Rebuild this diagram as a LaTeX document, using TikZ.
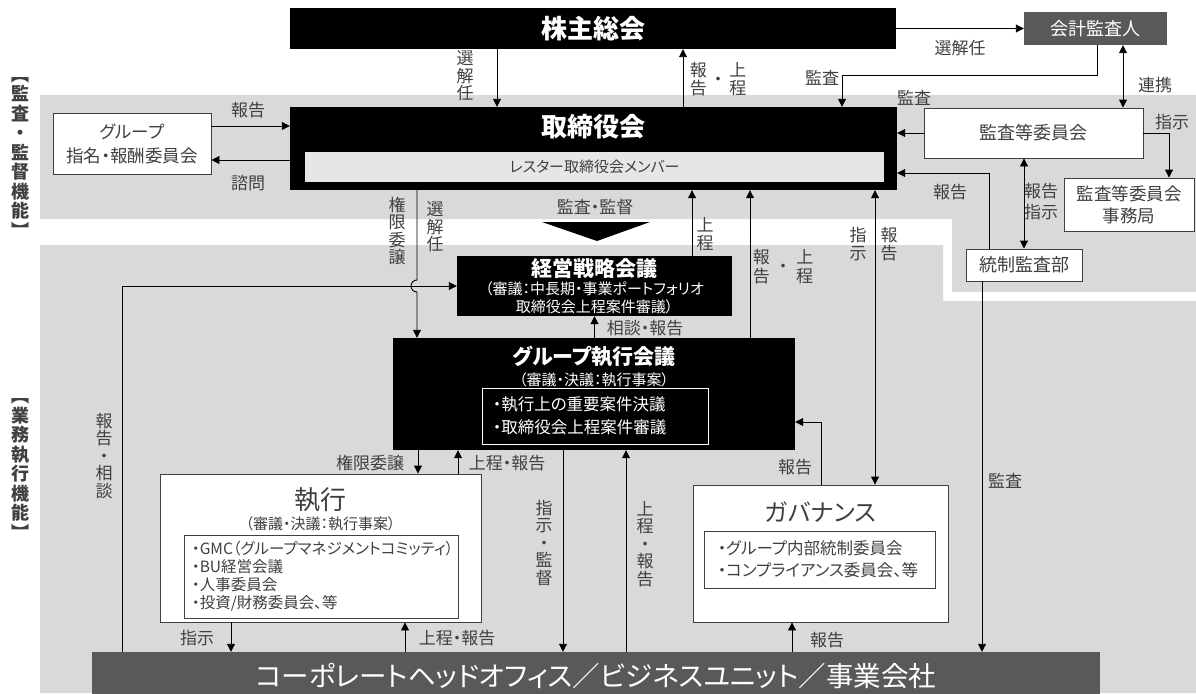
\documentclass[tikz,border=0pt]{standalone}
\usepackage{fontspec}
\setmainfont{Noto Sans CJK JP}[RawFeature=+palt]
\usetikzlibrary{arrows.meta}
\definecolor{bandgray}{HTML}{D9D9D9}
\definecolor{boxgray}{HTML}{595959}
\definecolor{txtgray}{HTML}{404040}
\definecolor{memgray}{HTML}{E7E6E6}
\tikzset{
  blackbox/.style={fill=black, text=white, inner sep=0pt},
  whitebox/.style={draw=txtgray, fill=white, line width=0.9pt, text=txtgray, inner sep=0pt, align=center},
  darkbox/.style={fill=boxgray, text=white, inner sep=0pt},
  lab/.style={text=txtgray, inner sep=0pt, font=\fontsize{17}{18}\selectfont},
  vlab/.style={lab, align=center, font=\fontsize{17}{17.5}\selectfont},
  arr/.style={line width=0.9pt, -{Triangle[length=8pt,width=8pt]}},
  darr/.style={line width=0.9pt, {Triangle[length=8pt,width=8pt]}-{Triangle[length=8pt,width=8pt]}},
}

\begin{document}
\begin{tikzpicture}[x=1pt, y=-1pt]
    \useasboundingbox (0,0) rectangle (1196,693);

    % Bands
    \fill[bandgray] (40,95) -- (1196,95) -- (1196,292) -- (952,292) -- (952,219) -- (40,219) -- cycle;
    \fill[bandgray] (40,245) -- (943,245) -- (943,301) -- (1196,301) -- (1196,693) -- (40,693) -- cycle;
    \node[lab, align=center, font=\bfseries\fontsize{18}{19.5}\selectfont] (bandA) at (21,157) {︻\\監\\査\\・\\監\\督\\機\\能\\︼};
    \node[lab, align=center, font=\bfseries\fontsize{18}{19.5}\selectfont] (bandB) at (21,469) {︻\\業\\務\\執\\行\\機\\能\\︼};

    % Shareholders, auditor
    \node[blackbox, font=\bfseries\fontsize{26}{28}\selectfont, minimum width=606pt, minimum height=41pt] (gms) at (593,28.5) {株主総会};
    \node[darkbox, font=\fontsize{18}{20}\selectfont, minimum width=143pt, minimum height=33pt] (cpa) at (1095.5,28.5) {会計監査人};

    % Board
    \node[blackbox, minimum width=607pt, minimum height=83pt] (board) at (593.5,148.5) {};
    \node[text=white, inner sep=0pt, font=\bfseries\fontsize{26}{28}\selectfont] (boardtitle) at (593.5,127) {取締役会};
    \node[fill=memgray, text=txtgray, inner sep=0pt, font=\fontsize{15}{16}\selectfont, minimum width=579pt, minimum height=30pt] (members) at (594.5,167) {レスター取締役会メンバー};
    \node[whitebox, font=\fontsize{17.5}{24}\selectfont, minimum width=158pt, minimum height=61pt] (nomcom) at (132,143.5) {グループ\\指名・報酬委員会};
    \node[whitebox, font=\fontsize{18}{20}\selectfont, minimum width=219pt, minimum height=50pt] (acom) at (1033.5,133) {監査等委員会};
    \node[whitebox, font=\fontsize{17.5}{22}\selectfont, minimum width=130pt, minimum height=53pt] (acoff) at (1129,204.5) {監査等委員会\\事務局};
    \node[whitebox, font=\fontsize{18}{20}\selectfont, minimum width=116pt, minimum height=32pt] (iad) at (1024,265) {統制監査部};

    % Strategy meeting
    \node[blackbox, minimum width=275pt, minimum height=60pt] (strat) at (594.5,286) {};
    \node[text=white, inner sep=0pt, font=\bfseries\fontsize{21}{23}\selectfont] (strattitle) at (594.5,268) {経営戦略会議};
    \node[text=white, inner sep=0pt, align=center, font=\fontsize{15}{18}\selectfont] (stratsub) at (594.5,298) {（審議：中長期・事業ポートフォリオ\\取締役会上程案件審議）};

    % Group executive committee
    \node[blackbox, minimum width=402pt, minimum height=112pt] (gec) at (594,394) {};
    \node[text=white, inner sep=0pt, font=\bfseries\fontsize{21}{23}\selectfont] (gectitle) at (594,357) {グループ執行会議};
    \node[text=white, inner sep=0pt, font=\fontsize{15}{17}\selectfont] (gecsub) at (594,380) {（審議・決議：執行事案）};
    \node[draw=white, line width=0.9pt, text=white, align=left, text width=204pt, inner xsep=11pt, inner ysep=0pt, minimum height=56pt, font=\fontsize{16.5}{23}\selectfont] (geclist) at (595,416) {・執行上の重要案件決議\\・取締役会上程案件審議};

    % Execution
    \node[whitebox, minimum width=321pt, minimum height=148pt] (exec) at (320.5,548) {};
    \node[text=txtgray, inner sep=0pt, font=\fontsize{26}{28}\selectfont] (exectitle) at (320.5,500) {執行};
    \node[text=txtgray, inner sep=0pt, font=\fontsize{15}{17}\selectfont] (execsub) at (320.5,524) {（審議・決議：執行事案）};
    \node[whitebox, align=left, text width=258pt, inner xsep=8pt, minimum height=83pt, font=\fontsize{15.5}{18}\selectfont] (execlist) at (321,576.5) {・GMC（グループマネジメントコミッティ）\\・BU経営会議\\・人事委員会\\・投資/財務委員会、等};

    % Governance
    \node[whitebox, minimum width=255pt, minimum height=137pt] (gov) at (820.5,553.5) {};
    \node[text=txtgray, inner sep=0pt, font=\fontsize{24}{26}\selectfont] (govtitle) at (820.5,512) {ガバナンス};
    \node[whitebox, align=left, text width=203pt, inner xsep=14pt, minimum height=57pt, font=\fontsize{16.5}{22}\selectfont] (govlist) at (819.5,559.5) {・グループ内部統制委員会\\・コンプライアンス委員会、等};

    % Business side
    \node[darkbox, font=\fontsize{27.5}{29}\selectfont, minimum width=1008pt, minimum height=48pt] (cho) at (596,676) {コーポレートヘッドオフィス／ビジネスユニット／事業会社};

    % Columns of the connectors
    \coordinate (xSel) at (497,0);
    \coordinate (xRep) at (683,0);
    \coordinate (xLink) at (1123,0);
    \coordinate (xCpaAud) at (1097,0);
    \coordinate (xBoardAud) at (842,0);
    \coordinate (xOff) at (1169,0);
    \coordinate (xIadRep) at (989,0);
    \coordinate (yIadRep) at (0,173);
    \coordinate (xIadAud) at (982,0);
    \coordinate (xDel) at (417,0);
    \coordinate (yJump) at (0,280);
    \coordinate (xLeft) at (122,0);
    \coordinate (xStratUp) at (692,0);
    \coordinate (xGecUp) at (750,0);
    \coordinate (xGov) at (875,0);
    \coordinate (xDel2) at (418,0);
    \coordinate (xUp2) at (458,0);
    \coordinate (xInst) at (231,0);
    \coordinate (xUp3) at (405,0);
    \coordinate (xSup) at (563,0);
    \coordinate (xUp4) at (626,0);
    \coordinate (xGovRep) at (821,0);
    \coordinate (yGovRep) at (0,422);
    \coordinate (xGovUp) at (792,0);

    % Top connectors
    \draw[arr] (gms.south -| xSel) -- (board.north -| xSel);
    \draw[arr] (board.north -| xRep) -- (gms.south -| xRep);
    \draw[arr] (gms.east) -- (cpa.west);
    \draw[darr] (cpa.south -| xLink) -- (acom.north -| xLink);
    \draw[arr] (cpa.south -| xCpaAud) -- ++(0,30) -| (board.north -| xBoardAud);
    \draw[arr] (nomcom.east |- 0,126) -- (board.west |- 0,126);
    \draw[arr] (board.west |- 0,160) -- (nomcom.east |- 0,160);
    \draw[arr] (acom.west) -- (board.east |- acom.west);
    \draw[arr] (acom.east) -| (acoff.north -| xOff);
    \draw[darr] (acom.south -| iad.north) -- (iad.north);
    \draw[arr] (iad.north -| xIadRep) |- (board.east |- yIadRep);
    \draw[arr] (iad.south -| xIadAud) -- (cho.north -| xIadAud);

    % Middle connectors
    \draw[arr] (board.south -| xDel) -- (yJump -| xDel) arc[start angle=90, end angle=270, radius=6pt] -- (gec.north -| xDel);
    \draw[arr] (cho.north -| xLeft) |- (strat.west);
    \draw[arr] (strat.north -| xStratUp) -- (board.south -| xStratUp);
    \draw[arr] (gec.north -| xGecUp) -- (board.south -| xGecUp);
    \draw[darr] (board.south -| xGov) -- (gov.north -| xGov);
    \draw[arr] (gec.north -| strat.south) -- (strat.south);
    \fill (542,222) -- (650,222) -- (597,241) -- cycle;

    % Lower connectors
    \draw[arr] (gec.south -| xDel2) -- (exec.north -| xDel2);
    \draw[arr] (exec.north -| xUp2) -- (gec.south -| xUp2);
    \draw[arr] (exec.south -| xInst) -- (cho.north -| xInst);
    \draw[arr] (cho.north -| xUp3) -- (exec.south -| xUp3);
    \draw[arr] (gec.south -| xSup) -- (cho.north -| xSup);
    \draw[arr] (cho.north -| xUp4) -- (gec.south -| xUp4);
    \draw[arr] (gov.north -| xGovRep) |- (gec.east |- yGovRep);
    \draw[arr] (cho.north -| xGovUp) -- (gov.south -| xGovUp);

    % Labels
    \node[vlab] (lSel) at (465,76) {選\\解\\任};
    \node[vlab, font=\fontsize{17}{18.5}\selectfont] (lRep) at (718,79) {報\hspace{7pt}\raisebox{-9pt}[0pt][0pt]{・}\hspace{7pt}上\\告\hspace{7pt}\phantom{・}\hspace{7pt}程};
    \node[lab] (lSel2) at (960,48) {選解任};
    \node[lab] (lLink) at (1155,85) {連携};
    \node[lab] (lAud1) at (822,78) {監査};
    \node[lab] (lAud2) at (914,98) {監査};
    \node[lab] (lInst1) at (1172,122) {指示};
    \node[lab] (lRep1) at (248,110) {報告};
    \node[lab] (lCon) at (248,183) {諮問};
    \node[lab, align=center, font=\fontsize{17}{21}\selectfont] (lRepInst) at (1041,202) {報告\\指示};
    \node[lab] (lRep2) at (950,192) {報告};
    \node[lab] (lOver) at (595,207) {監査・監督};
    \node[vlab] (lDel) at (397,231) {権\\限\\委\\譲};
    \node[vlab] (lSel3) at (435,227) {選\\解\\任};
    \node[vlab] (lUp1) at (705,234) {上\\程};
    \node[vlab, font=\fontsize{17}{19}\selectfont] (lRep3) at (783,267) {報\hspace{9pt}\raisebox{-9pt}[0pt][0pt]{・}\hspace{9pt}上\\告\hspace{9pt}\phantom{・}\hspace{9pt}程};
    \node[vlab] (lInst2) at (858,244) {指\\示};
    \node[vlab] (lRep4) at (889,244) {報\\告};
    \node[lab] (lConsult) at (645,328) {相談・報告};
    \node[vlab] (lRepCon) at (104,456) {報\\告\\・\\相\\談};
    \node[lab] (lDel2) at (370,463) {権限委譲};
    \node[lab] (lUp2) at (507,463) {上程・報告};
    \node[lab] (lRep5) at (795,467) {報告};
    \node[lab] (lAud3) at (1005,481) {監査};
    \node[vlab] (lSup) at (544,543) {指\\示\\・\\監\\督};
    \node[vlab] (lUp3) at (645,544) {上\\程\\・\\報\\告};
    \node[lab] (lInst3) at (197,638) {指示};
    \node[lab] (lUp4) at (457,638) {上程・報告};
    \node[lab] (lRep6) at (827,640) {報告};
\end{tikzpicture}
\end{document}
